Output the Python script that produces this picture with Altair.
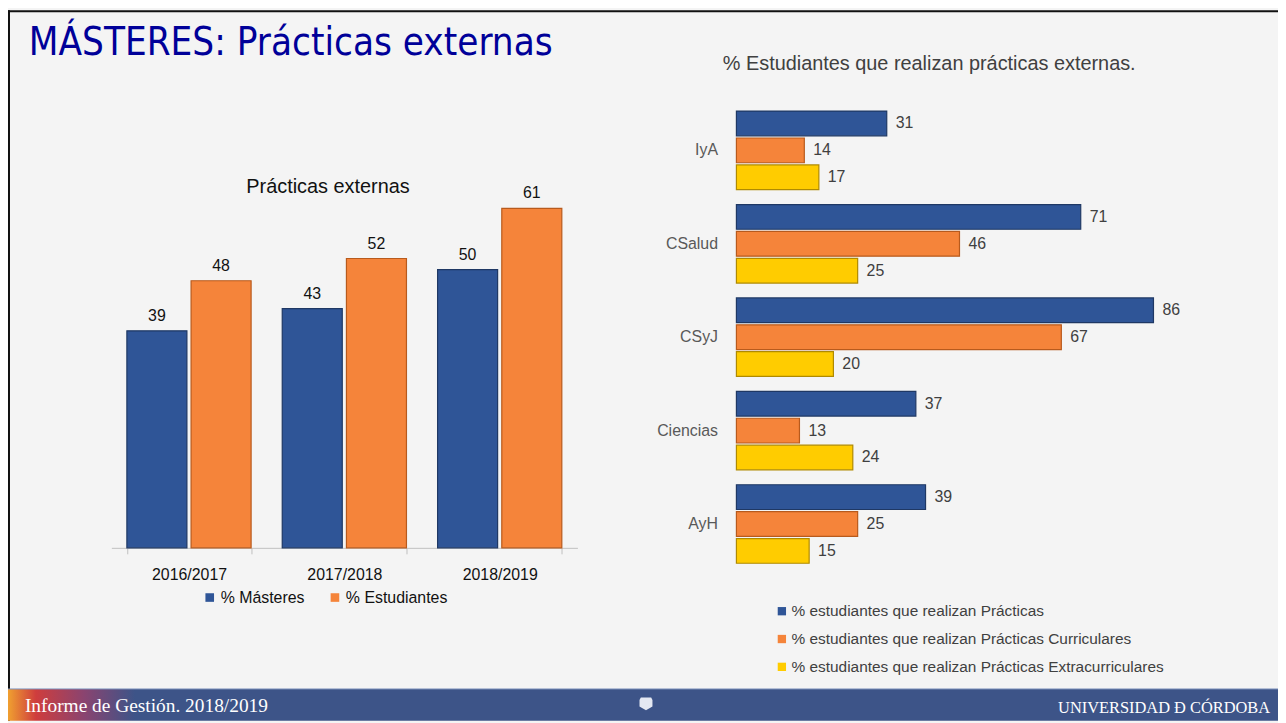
import altair as alt
import pandas as pd

# ---------------- data ----------------
years = ["2016/2017", "2017/2018", "2018/2019"]
masteres = [39, 43, 50]
estudiantes = [48, 52, 61]
left_series = ["% Másteres", "% Estudiantes"]

centros = ["IyA", "CSalud", "CSyJ", "Ciencias", "AyH"]
practicas = [31, 71, 86, 37, 39]
curriculares = [14, 46, 67, 13, 25]
extracurriculares = [17, 25, 20, 24, 15]
right_series = [
    "% estudiantes que realizan Prácticas",
    "% estudiantes que realizan Prácticas Curriculares",
    "% estudiantes que realizan Prácticas Extracurriculares",
]

main_title = "MÁSTERES: Prácticas externas"
left_title = "Prácticas externas"
right_title = "% Estudiantes que realizan prácticas externas."
footer_left = "Informe de Gestión. 2018/2019"
footer_right = "UNIVERSIDAD Ð CÓRDOBA"

left_df = pd.DataFrame(
    [{"year": y, "serie": left_series[0], "valor": v} for y, v in zip(years, masteres)]
    + [{"year": y, "serie": left_series[1], "valor": v} for y, v in zip(years, estudiantes)]
)
right_rows = []
for s, vals in zip(right_series, [practicas, curriculares, extracurriculares]):
    for c, v in zip(centros, vals):
        right_rows.append({"centro": c, "serie": s, "valor": v})
right_df = pd.DataFrame(right_rows)

W, H = 1278, 715
FONT = "Liberation Sans"
BG = "#f4f4f4"

# ---------------- left chart ----------------
lx = alt.X("year:N", sort=years,
           scale=alt.Scale(range=[104, 573], paddingInner=0.2, paddingOuter=0.1),
           axis=alt.Axis(title=None, labelAngle=0, offset=-174, tickBand="extent",
                         domainColor="#bfbfbf", tickColor="#bfbfbf", tickSize=6,
                         labelFontSize=16, labelColor="#111111", labelFont=FONT,
                         labelPadding=13))
ly = alt.Y("valor:Q", scale=alt.Scale(domain=[0, 80], range=[541, 93], nice=False), axis=None)
lxo = alt.XOffset("serie:N", sort=left_series,
                  scale=alt.Scale(range=[0, 125], paddingInner=0.065))

left_bars = alt.Chart(left_df).mark_bar(strokeWidth=1.2).encode(
    x=lx, y=ly, xOffset=lxo,
    color=alt.Color("serie:N", sort=left_series,
                    scale=alt.Scale(domain=left_series, range=["#2f5597", "#f5843a"]),
                    legend=alt.Legend(orient="none", legendX=195, legendY=583,
                                      direction="horizontal", title=None,
                                      symbolType="square", symbolSize=75,
                                      symbolStrokeWidth=0, labelFontSize=16,
                                      labelFont=FONT, labelColor="#111111",
                                      columnPadding=22, labelOffset=3)),
    stroke=alt.Stroke("serie:N", sort=left_series,
                      scale=alt.Scale(domain=left_series, range=["#1f3864", "#b85a1c"]),
                      legend=None),
)
left_labels = alt.Chart(left_df).mark_text(
    dy=-10, baseline="alphabetic", fontSize=16, font=FONT, color="#111111"
).encode(x=lx, y=ly, xOffset=lxo, text="valor:Q")

left = alt.layer(left_bars, left_labels)

# ---------------- right chart ----------------
ry = alt.Y("centro:N", sort=centros,
           scale=alt.Scale(range=[94, 564], paddingInner=0.16, paddingOuter=0.08),
           axis=alt.Axis(title=None, orient="left", offset=-728, domain=False, ticks=False,
                         labelFontSize=16, labelColor="#595959", labelFont=FONT,
                         labelPadding=14))
rx = alt.X("valor:Q", scale=alt.Scale(domain=[0, 100], range=[733, 1221], nice=False),
           axis=None)
ryo = alt.YOffset("serie:N", sort=right_series,
                  scale=alt.Scale(range=[0, 79], paddingInner=0.08))

right_bars = alt.Chart(right_df).mark_bar(strokeWidth=1.2).encode(
    y=ry, x=rx, yOffset=ryo,
    color=alt.Color("serie:N", sort=right_series,
                    scale=alt.Scale(domain=right_series,
                                    range=["#2f5597", "#f5843a", "#ffcc00"]),
                    legend=alt.Legend(orient="none", legendX=771, legendY=597,
                                      direction="vertical", title=None,
                                      symbolType="square", symbolSize=70,
                                      symbolStrokeWidth=0, labelFontSize=15.5,
                                      labelFont=FONT, labelColor="#404040",
                                      labelLimit=600, rowPadding=11, labelOffset=2)),
    stroke=alt.Stroke("serie:N", sort=right_series,
                      scale=alt.Scale(domain=right_series,
                                      range=["#1f3864", "#b85a1c", "#b08a00"]),
                      legend=None),
)
right_labels = alt.Chart(right_df).mark_text(
    dx=9, align="left", baseline="middle", fontSize=16, font=FONT, color="#404040"
).encode(y=ry, x=rx, yOffset=ryo, text="valor:Q")

right = alt.layer(right_bars, right_labels)

# ---------------- decorations ----------------
one = alt.Data(values=[{"k": 1}])

t_main = alt.Chart(one).mark_text(
    align="left", baseline="alphabetic", fontSize=38.5, font="DejaVu Sans Condensed",
    color="#000099"
).encode(x=alt.value(21), y=alt.value(45), text=alt.value(main_title))

t_left = alt.Chart(one).mark_text(
    align="center", baseline="middle", fontSize=20, font=FONT, color="#111111"
).encode(x=alt.value(322), y=alt.value(178), text=alt.value(left_title))

t_right = alt.Chart(one).mark_text(
    align="center", baseline="middle", fontSize=20, font=FONT, color="#404040"
).encode(x=alt.value(927), y=alt.value(54), text=alt.value(right_title))

border_top = alt.Chart(one).mark_rule(color="#111111", strokeWidth=2).encode(
    x=alt.value(0), x2=alt.value(W), y=alt.value(1)
)
border_left = alt.Chart(one).mark_rule(color="#111111", strokeWidth=2).encode(
    x=alt.value(1), y=alt.value(0), y2=alt.value(H)
)

footer_grad = alt.LinearGradient(
    gradient="linear", x1=0, x2=1, y1=0, y2=0,
    stops=[
        alt.GradientStop(offset=0.0, color="#f0a030"),
        alt.GradientStop(offset=0.022, color="#cf3d3d"),
        alt.GradientStop(offset=0.06, color="#8a4470"),
        alt.GradientStop(offset=0.1, color="#3d5488"),
        alt.GradientStop(offset=1.0, color="#3d5488"),
    ],
)
footer = alt.Chart(one).mark_rect(color=footer_grad).encode(
    x=alt.value(0), x2=alt.value(W), y=alt.value(683), y2=alt.value(H)
)
footer_line = alt.Chart(one).mark_rule(color="#7f93bd", strokeWidth=1).encode(
    x=alt.value(0), x2=alt.value(W), y=alt.value(683)
)
f_left = alt.Chart(one).mark_text(
    align="left", baseline="alphabetic", fontSize=19.5, font="Liberation Serif", color="#ffffff"
).encode(x=alt.value(17), y=alt.value(706), text=alt.value(footer_left))
f_right = alt.Chart(one).mark_text(
    align="right", baseline="alphabetic", fontSize=16.5, font="Liberation Serif", color="#ffffff"
).encode(x=alt.value(1270), y=alt.value(707), text=alt.value(footer_right))
f_logo = alt.Chart(one).mark_point(
    shape="M -0.8 -1 L 0.8 -1 L 1 -0.6 L 1 0.4 L 0 1 L -1 0.4 L -1 -0.6 Z",
    filled=True, color="#e4e8f2", size=170, opacity=1
).encode(x=alt.value(642), y=alt.value(698))

chart = alt.layer(
    left, right, t_main, t_left, t_right, border_top, border_left,
    footer, footer_line, f_left, f_right, f_logo
).resolve_scale(
    x="independent", y="independent", color="independent", stroke="independent",
    xOffset="independent", yOffset="independent"
).resolve_axis(x="independent", y="independent").resolve_legend(
    color="independent", stroke="independent"
).properties(
    width=W, height=H, padding=0, autosize=alt.AutoSizeParams(type="none"),
    background=BG
).configure_view(
    stroke=None, fill=BG
)

chart.save("out.html", embed_options={"renderer": "svg", "actions": False})
